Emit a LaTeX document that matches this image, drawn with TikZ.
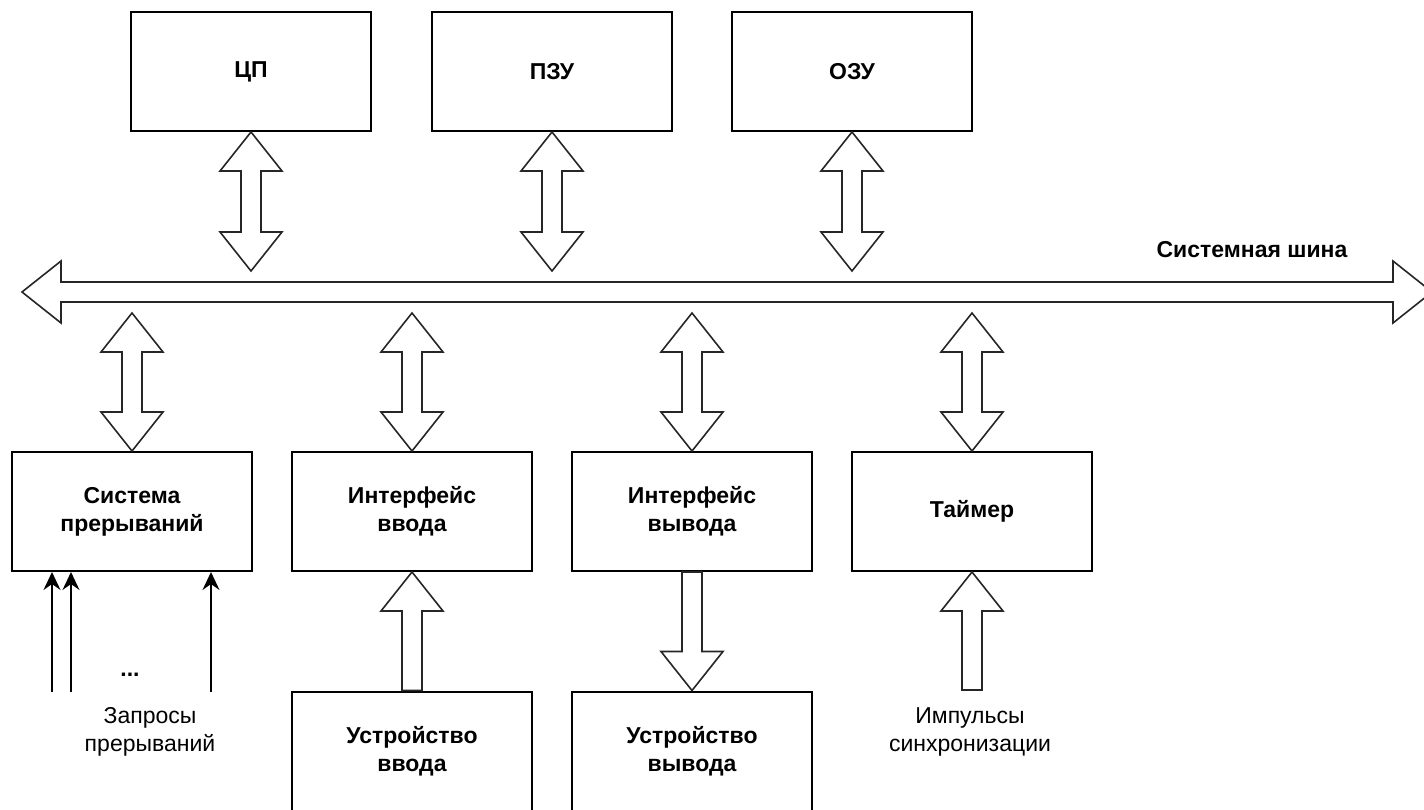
\documentclass[tikz,border=0pt]{standalone}
\usepackage{fontspec}
\setmainfont{Liberation Sans}
\usetikzlibrary{arrows.meta,calc}

\newcommand\taille{\fontsize{11.5pt}{14pt}\selectfont}
\newcommand\tete{19.5pt}
\newcommand\ltete{15.5pt}
\newcommand\lfut{5pt}

% Fleche large a deux pointes entre #1 et #2
\newcommand\doublefleche[2]{%
  \draw[fleche] (#1)
  -- ($(#1)!\tete!(#2)!\ltete!90:(#2)$)
  -- ($(#1)!\tete!(#2)!\lfut!90:(#2)$)
  -- ($(#2)!\tete!(#1)!\lfut!-90:(#1)$)
  -- ($(#2)!\tete!(#1)!\ltete!-90:(#1)$)
  -- (#2)
  -- ($(#2)!\tete!(#1)!\ltete!90:(#1)$)
  -- ($(#2)!\tete!(#1)!\lfut!90:(#1)$)
  -- ($(#1)!\tete!(#2)!\lfut!-90:(#2)$)
  -- ($(#1)!\tete!(#2)!\ltete!-90:(#2)$)
  -- cycle;}

% Fleche large simple de #1 vers #2
\newcommand\simplefleche[2]{%
  \draw[fleche] ($(#1)!\lfut!90:(#2)$)
  -- ($(#2)!\tete!(#1)!\lfut!-90:(#1)$)
  -- ($(#2)!\tete!(#1)!\ltete!-90:(#1)$)
  -- (#2)
  -- ($(#2)!\tete!(#1)!\ltete!90:(#1)$)
  -- ($(#2)!\tete!(#1)!\lfut!90:(#1)$)
  -- ($(#1)!\lfut!-90:(#2)$)
  -- cycle;}

\tikzset{
  bloc/.style={draw, line width=1pt, fill=white, minimum width=120pt,
    minimum height=59.5pt, inner sep=0pt, align=center, font=\taille\bfseries},
  fleche/.style={draw=black!85, line width=0.8pt, fill=white, line join=miter},
  legende/.style={align=center, font=\taille},
  requete/.style={line width=0.8pt, -{Stealth[length=9pt,width=8.5pt,inset=3pt]}},
}

\begin{document}
\begin{tikzpicture}[x=0.5pt,y=-0.5pt]
\useasboundingbox (0,0) rectangle (1424,809);

% Blocs du haut
\node[bloc] (cpu) at (251,71.5) {ЦП};
\node[bloc] (pzu) at (552,71.5) {ПЗУ};
\node[bloc] (ozu) at (852,71.5) {ОЗУ};

% Blocs du bas
\node[bloc] (intr) at (132,511.5) {Система\\прерываний};
\node[bloc] (inp) at (412,511.5) {Интерфейс\\ввода};
\node[bloc] (outp) at (692,511.5) {Интерфейс\\вывода};
\node[bloc] (timer) at (972,511.5) {Таймер};
\node[bloc] (dinp) at (412,751) {Устройство\\ввода};
\node[bloc] (doutp) at (692,751) {Устройство\\вывода};

% Systemnaya shina
\coordinate (busL) at (22,292);
\coordinate (busR) at (1432,292);
\doublefleche{busL}{busR}
\node[font=\taille\bfseries] (bus) at (1252,250) {Системная шина};

% Liaisons avec la shina
\coordinate (haut) at (0,271);
\coordinate (bas) at (0,313);
\foreach \n in {cpu,pzu,ozu} {
  \coordinate (\n-bus) at (\n.south |- haut);
  \doublefleche{\n.south}{\n-bus}
}
\foreach \n in {intr,inp,outp,timer} {
  \coordinate (\n-bus) at (\n.north |- bas);
  \doublefleche{\n-bus}{\n.north}
}

% Entree, sortie, synchronisation
\simplefleche{dinp.north}{inp.south}
\simplefleche{outp.south}{doutp.north}
\coordinate (imp) at (timer.south |- 0,690);
\simplefleche{imp}{timer.south}
\node[legende] (sync) at (970,731.5) {Импульсы\\синхронизации};

% Requetes
\foreach \x [count=\i] in {52,71,211} {
  \coordinate (z\i) at (\x,692);
  \draw[requete] (z\i) -- (z\i |- intr.south);
}
\node[font=\taille\bfseries] (pts) at (130,675) {...};
\node[legende] (req) at (150,731.5) {Запросы\\прерываний};
\end{tikzpicture}
\end{document}
